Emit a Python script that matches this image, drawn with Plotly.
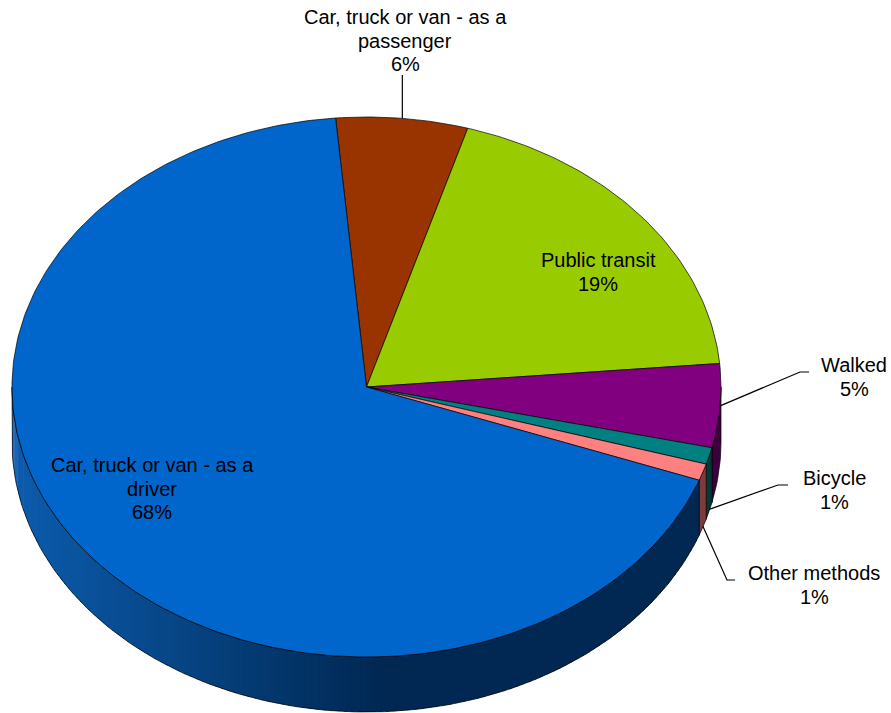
import numpy as np
import plotly.graph_objects as go

# Journey-to-work mode shares (percent), drawn clockwise from the top
modes = ["Car, truck or van - as a passenger", "Public transit", "Walked",
         "Bicycle", "Other methods", "Car, truck or van - as a driver"]
shares = [6, 19, 5, 1, 1, 68]
display_lines = [["Car, truck or van - as a", "passenger"], ["Public transit"], ["Walked"],
                 ["Bicycle"], ["Other methods"], ["Car, truck or van - as a", "driver"]]
top_colors = ["#993300", "#99CC00", "#800080", "#008080", "#FF8080", "#0066CC"]
side_colors = ["#4d1a00", "#4d6600", "#3c003c", "#003a3a", "#7f3a3a", None]

# Pie geometry (tilted disc, pixel-space axes)
W, H = 891, 713
CX, CY, RX, RY, DEPTH = 366.5, 387.0, 354.5, 270.0, 55.0
START_DEG = -5.0
FONT = dict(family="Liberation Sans, Arial, sans-serif", size=20, color="#000000")
LINE_GAP = 23.5


def rim(theta_deg, drop=0.0):
    t = np.radians(theta_deg)
    return CX + RX * np.sin(t), CY - RY * np.cos(t) + drop


def arc(a, b, drop=0.0, step=1.0):
    n = max(2, int(np.ceil(abs(b - a) / step)) + 1)
    th = np.linspace(a, b, n)
    return rim(th, drop)


cum = np.concatenate([[0], np.cumsum(shares)]) / sum(shares) * 360 + START_DEG
bounds = list(zip(cum[:-1], cum[1:]))

fig = go.Figure()


def add_poly(xs, ys, fill, line_w=0.0, line_c="#000000"):
    fig.add_trace(go.Scatter(
        x=list(xs), y=list(ys), mode="lines", fill="toself", fillcolor=fill,
        line=dict(color=line_c if line_w > 0 else fill, width=line_w if line_w > 0 else 0.5),
        hoverinfo="skip", showlegend=False))


def add_outline(xs, ys, w=0.7, c="#000000"):
    fig.add_trace(go.Scatter(x=list(xs), y=list(ys), mode="lines",
                             line=dict(color=c, width=w),
                             hoverinfo="skip", showlegend=False))


def side_path(a, b):
    xt, yt = arc(a, b)
    xb, yb = arc(b, a, DEPTH)
    xs = np.concatenate([xt, xb, [xt[0]]])
    ys = np.concatenate([yt, yb, [yt[0]]])
    return xs, ys


# Visible outer walls: the front half of the disc (90..270 degrees)
light = np.array([12, 92, 174])
dark = np.array([0, 40, 82])
for i, (a, b) in enumerate(bounds):
    lo, hi = max(a, 90.0), min(b, 270.0)
    if hi <= lo:
        continue
    if side_colors[i] is None:
        # shaded wall: colour darkens from the left rim towards the front
        n = 140
        edges = np.linspace(lo, hi, n + 1)
        for k in range(n):
            s0, s1 = edges[k], min(edges[k + 1] + 0.4, hi)
            xm, _ = rim((s0 + s1) / 2)
            f = np.clip((380 - xm) / (380 - 12), 0, 1)
            c = dark + (light - dark) * f
            col = "rgb(%d,%d,%d)" % tuple(np.round(c).astype(int))
            xs, ys = side_path(s0, s1)
            fig.add_trace(go.Scatter(x=list(xs), y=list(ys), mode="lines", fill="toself",
                                     fillcolor=col, line=dict(width=0, color=col),
                                     hoverinfo="skip", showlegend=False))
        xs, ys = side_path(lo, hi)
        add_outline(xs, ys)
    else:
        xs, ys = side_path(lo, hi)
        add_poly(xs, ys, side_colors[i], line_w=0.7)

# Top faces
for i, (a, b) in enumerate(bounds):
    xa, ya = arc(a, b)
    xs = np.concatenate([[CX], xa, [CX]])
    ys = np.concatenate([[CY], ya, [CY]])
    add_poly(xs, ys, top_colors[i], line_w=0.7)

# Labels and leader lines
mid = [(a + b) / 2 for a, b in bounds]


def add_label(i, x, y_first):
    lines = display_lines[i] + [f"{shares[i]}%"]
    for k, txt in enumerate(lines):
        fig.add_annotation(x=x, y=y_first + k * LINE_GAP, text=txt)


# passenger: vertical leader above the slice
px, py = rim(mid[0])
add_outline([px, px], [py, 75], w=1.2)
add_label(0, 405, 17)

# public transit: inside the slice
add_label(1, 598, 260)

# walked
wx, wy = rim(mid[2])
add_outline([wx, 800, 809], [wy, 372, 372], w=1.2)
add_label(2, 854, 365)

# bicycle
bx, by = rim(mid[3], DEPTH * 0.97)
add_outline([bx, 778, 788], [by, 485, 485], w=1.2)
add_label(3, 834, 478)

# other methods
ox, oy = rim(mid[4], DEPTH * 0.98)
add_outline([ox, 727, 735], [oy, 580, 580], w=1.2)
add_label(4, 814, 573)

# driver: inside the slice
add_label(5, 152, 465)

fig.update_annotations(showarrow=False, font=FONT, align="center",
                       xanchor="center", yanchor="middle")

fig.update_layout(
    width=W, height=H, autosize=False,
    margin=dict(l=0, r=0, t=0, b=0),
    paper_bgcolor="#ffffff", plot_bgcolor="#ffffff",
    showlegend=False,
    xaxis=dict(range=[0, W], visible=False, fixedrange=True),
    yaxis=dict(range=[H, 0], visible=False, fixedrange=True),
)

fig.write_html("out.html")
